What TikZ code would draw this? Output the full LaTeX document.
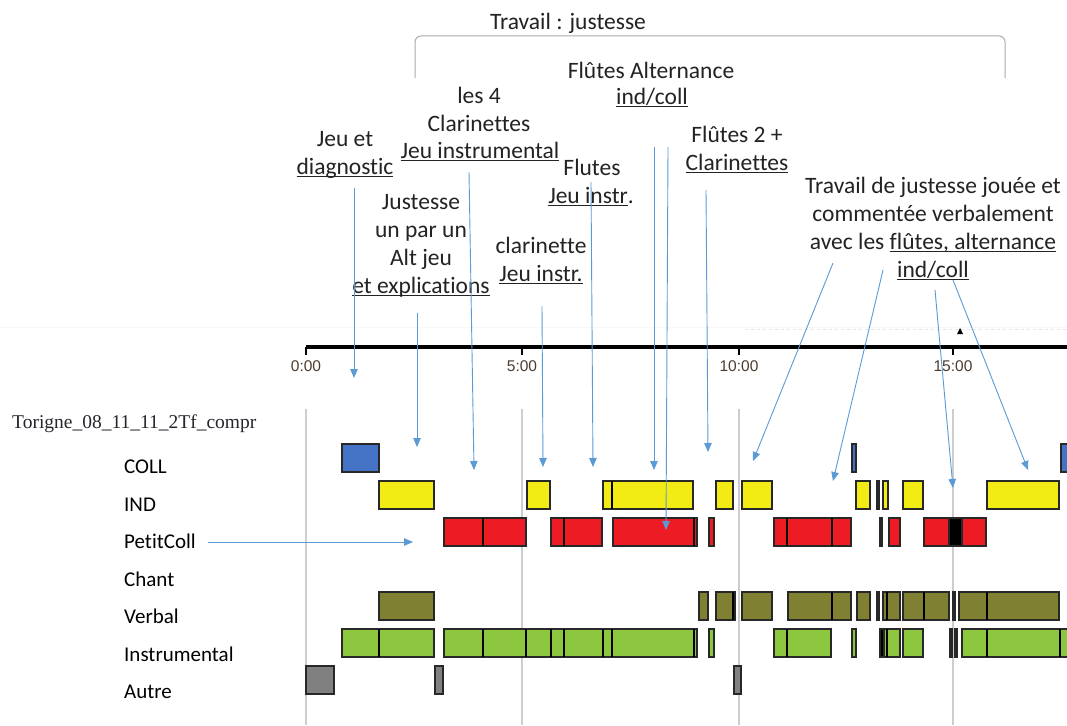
\documentclass[tikz,border=0pt]{standalone}
\usepackage{fontspec}
\setmainfont{Carlito}[Ligatures=NoCommon]
\newfontfamily\timesf{Liberation Serif}
\newfontfamily\tickf{Liberation Sans}
\usetikzlibrary{arrows.meta}
\definecolor{collblue}{RGB}{68,114,196}
\definecolor{indy}{RGB}{242,235,20}
\definecolor{pcred}{RGB}{237,28,36}
\definecolor{verb}{RGB}{128,128,50}
\definecolor{instg}{RGB}{141,198,63}
\definecolor{autreg}{RGB}{128,128,128}
\definecolor{barline}{RGB}{40,40,40}
\definecolor{arrblue}{RGB}{91,155,213}
\definecolor{gridc}{RGB}{205,205,205}
\definecolor{annot}{RGB}{35,35,35}
\definecolor{tickc}{RGB}{75,60,45}
\definecolor{titlec}{RGB}{40,35,45}
\definecolor{bracec}{RGB}{170,170,170}
\newcommand\ulx[1]{\setbox0\hbox{#1}\rlap{\rule[-3pt]{\wd0}{1.1pt}}\box0}
\newcommand\barseg[4]{\path[barbox,fill=#1] (#2,#3) rectangle (#4,{#3+28});}
\newcommand\bardiv[2]{\draw[divl] (#1,#2) -- (#1,{#2+28});}
\newcommand\barblk[3]{\path[barbox,fill=black] (#1,#2) rectangle (#3,{#2+28});}
\begin{document}
\begin{tikzpicture}[x=1pt,y=-1pt,
  ann/.style={font=\fontsize{23.5}{28}\selectfont, text=annot, inner sep=0pt, anchor=base},
  rowlab/.style={font=\fontsize{21}{25}\selectfont, text=black, inner sep=0pt, anchor=base west},
  ticklab/.style={font=\tickf\fontsize{15.5}{18}\selectfont, text=tickc, inner sep=0pt, anchor=base},
  arr/.style={draw=arrblue, line width=0.9pt, -{Triangle[length=9pt,width=7.5pt]}},
  gridline/.style={draw=gridc, line width=2pt},
  barbox/.style={draw=barline, line width=1.4pt},
  divl/.style={draw=black, line width=2.4pt}]
\useasboundingbox (0,0) rectangle (1067,725);
\clip (0,0) rectangle (1067,725);
\fill[white] (0,0) rectangle (1067,725);

% faint separators
\draw[gray!6, line width=0.8pt] (0,327) -- (1067,327);
\draw[gray!20, line width=0.8pt, dashed] (745,329) -- (1067,329);

% bracket
\node[ann] (tj) at (568,30) {Travail : justesse};
\draw[bracec, line width=1pt, rounded corners=6pt] (415,78) -- (415,36) -- (1005,36) -- (1005,78);

% timeline
\coordinate (ax0) at (306,347);
\coordinate (ax1) at (1067,347);
\draw[black, line width=4.5pt] (ax0) -- (ax1);
\foreach \x/\lab in {306/0:00, 522/5:00, 739/10:00, 953/15:00} {
  \draw[black, line width=1.5pt] (\x,347) -- (\x,355);
  \node[ticklab] (tk\x) at (\x,371) {\lab};
}
\fill[black] (957,334) -- (963,334) -- (960,328) -- cycle;

% grid
\foreach \x in {306,522,739,953} \draw[gridline] (\x,409) -- (\x,725);

% title and row labels
\node[anchor=base west, inner sep=0pt, font=\timesf\fontsize{19.5}{22}\selectfont, text=titlec] (title) at (12,428) {Torigne\_08\_11\_11\_2Tf\_compr};
\node[rowlab] (rcoll) at (124,473) {COLL};
\node[rowlab] (rind) at (124,511) {IND};
\node[rowlab] (rpc) at (124,548) {PetitColl};
\node[rowlab] (rchant) at (124,586) {Chant};
\node[rowlab] (rverb) at (124,623) {Verbal};
\node[rowlab] (rinst) at (124,661) {Instrumental};
\node[rowlab] (rautre) at (124,698) {Autre};

% COLL
\barseg{collblue}{342}{444}{379}
\barseg{collblue}{852}{444}{856}
\barseg{collblue}{1061}{444}{1072}
% IND
\barseg{indy}{379}{481}{434}
\barseg{indy}{527}{481}{550}
\barseg{indy}{603}{481}{693} \bardiv{612}{481}
\barseg{indy}{716}{481}{733}
\barseg{indy}{742}{481}{772}
\barseg{indy}{856}{481}{870}
\barblk{877}{481}{879}
\barseg{indy}{883}{481}{888}
\barseg{indy}{903}{481}{923}
\barseg{indy}{987}{481}{1059}
% PetitColl
\barseg{pcred}{444}{518}{526} \bardiv{483}{518}
\barseg{pcred}{551}{518}{602} \bardiv{564}{518}
\barseg{pcred}{613}{518}{697} \bardiv{694}{518}
\barseg{pcred}{709}{518}{714}
\barseg{pcred}{774}{518}{851} \bardiv{787}{518} \bardiv{832}{518}
\barblk{880}{518}{882}
\barseg{pcred}{889}{518}{900}
\barseg{pcred}{924}{518}{986} \barblk{949}{518}{962}
% Verbal
\barseg{verb}{379}{592}{434}
\barseg{verb}{699}{592}{708}
\barseg{verb}{716}{592}{735} \bardiv{733}{592}
\barseg{verb}{742}{592}{772}
\barseg{verb}{788}{592}{851} \bardiv{832}{592}
\barseg{verb}{857}{592}{870}
\barblk{877}{592}{879}
\barseg{verb}{883}{592}{900} \bardiv{887}{592}
\barseg{verb}{903}{592}{949} \bardiv{924}{592}
\barblk{953}{592}{955}
\barseg{verb}{959}{592}{1059} \bardiv{987}{592}
% Instrumental
\barseg{instg}{342}{629}{434} \bardiv{379}{629}
\barseg{instg}{444}{629}{697}
\bardiv{483}{629} \bardiv{526}{629} \bardiv{551}{629} \bardiv{564}{629} \bardiv{603}{629} \bardiv{612}{629} \bardiv{694}{629}
\barseg{instg}{709}{629}{714}
\barseg{instg}{774}{629}{831} \bardiv{787}{629}
\barseg{instg}{852}{629}{856}
\barseg{instg}{880}{629}{900} \barblk{880}{629}{884} \bardiv{887}{629}
\barseg{instg}{903}{629}{923}
\barblk{950}{629}{952}
\barblk{955}{629}{957}
\barseg{instg}{962}{629}{1072} \bardiv{987}{629} \bardiv{1060}{629}
% Autre
\barseg{autreg}{306}{666}{334}
\barseg{autreg}{435}{666}{443}
\barseg{autreg}{734}{666}{741}

% annotations
\node[ann] (fa1) at (651,78) {Flûtes Alternance};
\node[ann] (fa2) at (652,104) {\ulx{ind/coll}};
\node[ann] (c4a) at (479,103) {les 4};
\node[ann] (c4b) at (479,131) {Clarinettes};
\node[ann] (c4c) at (480,158) {\ulx{Jeu instrumental}};
\node[ann] (jda) at (345,146) {Jeu et};
\node[ann] (jdb) at (345,174) {\ulx{diagnostic}};
\node[ann] (fla) at (592,175) {Flutes};
\node[ann] (flb) at (591,203) {\ulx{Jeu instr}.};
\node[ann] (f2a) at (737,142) {Flûtes 2 +};
\node[ann] (f2b) at (737,170) {\ulx{Clarinettes}};
\node[ann] (jua) at (421,209) {Justesse};
\node[ann] (jub) at (421,237) {un par un};
\node[ann] (juc) at (421,265) {Alt jeu};
\node[ann] (jud) at (421,293) {\ulx{et explications}};
\node[ann] (cla) at (541,253) {clarinette};
\node[ann] (clb) at (541,281) {\ulx{Jeu instr.}};
\node[ann] (twa) at (933,193) {Travail de justesse jouée et};
\node[ann] (twb) at (933,221) {commentée verbalement};
\node[ann] (twc) at (933,249) {avec les \ulx{flûtes, alternance}};
\node[ann] (twd) at (933,277) {\ulx{ind/coll}};

% arrows
\coordinate (a1s) at (354,188); \coordinate (a1e) at (354,378);
\coordinate (a2s) at (417,313); \coordinate (a2e) at (417,447);
\coordinate (a3s) at (469,172); \coordinate (a3e) at (474,470);
\coordinate (a4s) at (591,182); \coordinate (a4e) at (593,467);
\coordinate (a5s) at (654,147); \coordinate (a5e) at (654,470);
\coordinate (a6s) at (668,147); \coordinate (a6e) at (666,530);
\coordinate (a7s) at (706,190); \coordinate (a7e) at (708,452);
\coordinate (a8s) at (542,306); \coordinate (a8e) at (543,467);
\coordinate (a9s) at (833,263); \coordinate (a9e) at (753,461);
\coordinate (a10s) at (883,270); \coordinate (a10e) at (833,481);
\coordinate (a11s) at (935,290); \coordinate (a11e) at (953,488);
\coordinate (a12s) at (953,280); \coordinate (a12e) at (1028,470);
\coordinate (a13s) at (208,542); \coordinate (a13e) at (413,542);
\foreach \i in {1,...,13} \draw[arr] (a\i s) -- (a\i e);
\end{tikzpicture}
\end{document}
